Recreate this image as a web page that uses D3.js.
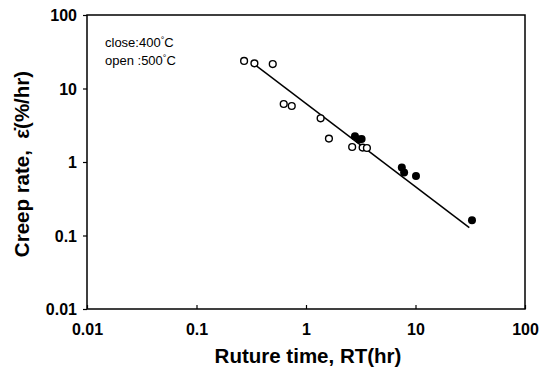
<!DOCTYPE html>
<html><head><meta charset="utf-8">
<script src="https://cdn.jsdelivr.net/npm/d3@7"></script>
<style>body{margin:0;background:#fff}svg{display:block}</style>
</head><body>
<svg id="c" width="549" height="370"></svg>
<script>
const tickValues = [0.01, 0.1, 1, 10, 100];
const tickLabels = ["0.01", "0.1", "1", "10", "100"];
// open circles: 500°C
const openRT = [0.272, 0.338, 0.497, 0.626, 0.741, 1.36, 1.62, 2.64, 3.29, 3.6];
const openRate = [23.7, 22.0, 21.5, 6.15, 5.78, 3.93, 2.08, 1.60, 1.57, 1.55];
// filled circles: 400°C
const closeRT = [2.8, 3.06, 3.22, 7.5, 7.87, 10.1, 32.8];
const closeRate = [2.24, 2.02, 2.06, 0.84, 0.718, 0.645, 0.161];
// fitted line endpoints
const fitRT = [0.338, 31];
const fitRate = [21.3, 0.128];

const svg = d3.select("#c");
const x = d3.scaleLog().domain([0.01, 100]).range([87, 525]);
const y = d3.scaleLog().domain([0.01, 100]).range([309, 15]);
const font = "'Liberation Sans', Arial, sans-serif";

// frame
svg.append("rect").attr("x", x(0.01)).attr("y", y(100))
  .attr("width", x(100) - x(0.01)).attr("height", y(0.01) - y(100))
  .attr("fill", "none").attr("stroke", "#000").attr("stroke-width", 1.5);

// x axis
const xa = svg.append("g").attr("transform", `translate(0,${y(0.01)})`)
  .call(d3.axisBottom(x).tickValues(tickValues).tickSizeInner(-4).tickSizeOuter(0)
    .tickFormat((d, i) => tickLabels[i]));
xa.select(".domain").remove();
xa.selectAll("line").attr("stroke-width", 1.2);
xa.selectAll("text").attr("dy", 0).attr("y", 26)
  .attr("font-family", font).attr("font-size", 16).attr("font-weight", "bold").attr("fill", "#000");

// y axis
const ya = svg.append("g").attr("transform", `translate(${x(0.01)},0)`)
  .call(d3.axisLeft(y).tickValues(tickValues).tickSizeInner(4).tickSizeOuter(0)
    .tickFormat((d, i) => tickLabels[i]));
ya.select(".domain").remove();
ya.selectAll("line").attr("stroke-width", 1.2);
ya.selectAll("text").attr("x", -10).attr("dy", "0.36em")
  .attr("font-family", font).attr("font-size", 16).attr("font-weight", "bold").attr("fill", "#000");

// axis titles
svg.append("text").attr("x", 308).attr("y", 363)
  .attr("text-anchor", "middle").attr("font-family", font).attr("font-size", 20.5)
  .attr("font-weight", "bold").text("Ruture time, RT(hr)");
svg.append("text").attr("transform", "translate(29,164) rotate(-90)")
  .attr("text-anchor", "middle").attr("font-family", font).attr("font-size", 20.5)
  .attr("font-weight", "bold").text("Creep rate,\u00A0 \u03B5\u0307(%/hr)");

// legend text
const lg = svg.append("g").attr("font-family", font).attr("font-size", 13);
const t1 = lg.append("text").attr("x", 105).attr("y", 47);
t1.append("tspan").text("close:400");
t1.append("tspan").attr("dy", -4).attr("font-size", 9).text("\u00B0");
t1.append("tspan").attr("dy", 4).text("C");
const t2 = lg.append("text").attr("x", 105).attr("y", 65);
t2.append("tspan").text("open :500");
t2.append("tspan").attr("dy", -4).attr("font-size", 9).text("\u00B0");
t2.append("tspan").attr("dy", 4).text("C");

// fit line
svg.append("line").attr("x1", x(fitRT[0])).attr("y1", y(fitRate[0]))
  .attr("x2", x(fitRT[1])).attr("y2", y(fitRate[1]))
  .attr("stroke", "#000").attr("stroke-width", 1.5);

// points
svg.append("g").selectAll("circle").data(openRT.map((d, i) => [d, openRate[i]]))
  .join("circle").attr("cx", d => x(d[0])).attr("cy", d => y(d[1])).attr("r", 3.4)
  .attr("fill", "#fff").attr("stroke", "#000").attr("stroke-width", 1.4);
svg.append("g").selectAll("circle").data(closeRT.map((d, i) => [d, closeRate[i]]))
  .join("circle").attr("cx", d => x(d[0])).attr("cy", d => y(d[1])).attr("r", 4)
  .attr("fill", "#000");
</script>
</body></html>
